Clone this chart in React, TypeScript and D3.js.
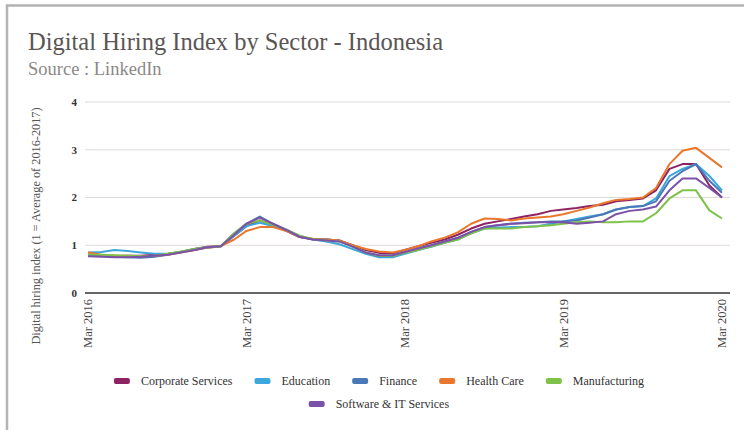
import { useMemo } from "react";
import * as d3 from "d3";

const W = 744;
const H = 430;
const FONT = "'Liberation Serif', 'Times New Roman', serif";

// monthly, Mar 2016 .. Mar 2020
const startMonth = new Date(2016, 2, 1);
const yearTicks = [2016, 2017, 2018, 2019, 2020];
const yTicks = [0, 1, 2, 3, 4];

const corporate = [
  0.8, 0.78, 0.77, 0.78, 0.78, 0.8, 0.82, 0.86, 0.92, 0.97, 0.98, 1.2, 1.4,
  1.52, 1.42, 1.3, 1.17, 1.13, 1.12, 1.1, 1.0, 0.9, 0.84, 0.83, 0.9, 0.98,
  1.05, 1.12, 1.22, 1.35, 1.45, 1.5, 1.55, 1.6, 1.65, 1.72, 1.75, 1.78, 1.82,
  1.85, 1.92, 1.95, 1.98, 2.15, 2.6, 2.7, 2.7, 2.25, 2.0,
];
const education = [
  0.85, 0.86, 0.9, 0.88, 0.85, 0.82, 0.82, 0.86, 0.92, 0.96, 0.98, 1.2, 1.4,
  1.47, 1.4, 1.32, 1.2, 1.12, 1.08, 1.02, 0.92, 0.82, 0.75, 0.75, 0.82, 0.9,
  0.97, 1.05, 1.12, 1.25, 1.35, 1.37, 1.38, 1.38, 1.4, 1.45, 1.5, 1.55, 1.6,
  1.65, 1.75, 1.8, 1.82, 1.98, 2.45, 2.6, 2.7, 2.45, 2.15,
];
const finance = [
  0.78, 0.78, 0.76, 0.75, 0.74, 0.76, 0.8, 0.86, 0.9, 0.95, 0.98, 1.25, 1.45,
  1.6, 1.45, 1.32, 1.18, 1.12, 1.12, 1.1, 0.97, 0.84, 0.77, 0.78, 0.85, 0.93,
  1.0, 1.08, 1.16, 1.28, 1.38, 1.42, 1.45, 1.47, 1.48, 1.5, 1.5, 1.52, 1.58,
  1.65, 1.75, 1.8, 1.82, 1.92, 2.35, 2.55, 2.7, 2.35, 2.1,
];
const healthCare = [
  0.85, 0.8, 0.78, 0.78, 0.77, 0.78, 0.8, 0.85, 0.9, 0.95, 0.98, 1.12, 1.3,
  1.38, 1.38, 1.3, 1.18, 1.13, 1.12, 1.1, 1.0, 0.92, 0.87, 0.85, 0.9, 0.98,
  1.08, 1.16, 1.27, 1.45, 1.56, 1.55, 1.52, 1.56, 1.58, 1.6, 1.65, 1.72, 1.79,
  1.88, 1.95, 1.97, 2.0, 2.2, 2.7, 2.98, 3.04, 2.83, 2.63,
];
const manufacturing = [
  0.8, 0.8, 0.79, 0.78, 0.77, 0.78, 0.82, 0.87, 0.92, 0.96, 0.98, 1.25, 1.45,
  1.52, 1.43, 1.33, 1.2, 1.13, 1.1, 1.08, 0.97, 0.85, 0.78, 0.78, 0.84, 0.9,
  0.98, 1.05, 1.12, 1.25, 1.35, 1.35, 1.35, 1.38, 1.4, 1.42, 1.45, 1.48, 1.5,
  1.48, 1.48, 1.5, 1.5, 1.67, 1.98, 2.15, 2.15, 1.73, 1.56,
];
const software = [
  0.77, 0.76, 0.75, 0.75, 0.76, 0.78, 0.8, 0.85, 0.9, 0.96, 0.98, 1.22, 1.45,
  1.58, 1.45, 1.32, 1.18, 1.12, 1.1, 1.08, 0.97, 0.85, 0.79, 0.79, 0.86, 0.93,
  1.0, 1.08, 1.15, 1.28, 1.38, 1.42, 1.45, 1.46, 1.48, 1.48, 1.48, 1.45, 1.47,
  1.5, 1.65, 1.72, 1.75, 1.81, 2.15, 2.4, 2.4, 2.2, 2.0,
];

const seriesNames = [
  "Corporate Services",
  "Education",
  "Finance",
  "Health Care",
  "Manufacturing",
  "Software & IT Services",
];
const seriesValues = [corporate, education, finance, healthCare, manufacturing, software];
const seriesColors = ["#8e2363", "#3ea7dc", "#4a78b6", "#e9782d", "#7fc24a", "#7b52a8"];

function measure(text: string, size: number) {
  const ctx = document.createElement("canvas").getContext("2d");
  if (!ctx) return text.length * size * 0.45;
  ctx.font = `${size}px ${FONT}`;
  return ctx.measureText(text).width;
}

export default function App() {
  const x = d3
    .scaleTime()
    .domain([startMonth, new Date(2020, 2, 1)])
    .range([88, 722]);
  const y = d3.scaleLinear().domain([0, 4]).range([293, 102]);

  const line = d3
    .line<number>()
    .x((_, i) => x(d3.timeMonth.offset(startMonth, i)))
    .y((d) => y(d));

  const fmt = d3.timeFormat("%b %Y");

  // legend: first five on one row, the last on a second row, both centred
  const legendRows = useMemo(() => {
    const rows = [seriesNames.slice(0, 5), seriesNames.slice(5)];
    return rows.map((names, r) => {
      const widths = names.map((n) => 27 + measure(n, 12));
      const total = d3.sum(widths) + 22 * (names.length - 1);
      let cx = 379 - total / 2;
      return names.map((n, k) => {
        const item = { name: n, x: cx, row: r, color: seriesColors[seriesNames.indexOf(n)] };
        cx += widths[k] + 22;
        return item;
      });
    });
  }, []);

  return (
    <svg
      width={W}
      height={H}
      style={{ position: "absolute", left: 0, top: 0, background: "#fff" }}
      fontFamily={FONT}
    >
      <path d={`M7,${H + 5}V5.5H${W + 5}`} fill="none" stroke="#b3b3b3" strokeWidth={2.5} />

      <text x={28} y={50} fontSize={24.5} fill="#5b5555">
        Digital Hiring Index by Sector - Indonesia
      </text>
      <text x={28} y={75} fontSize={18.5} fill="#8c8888">
        Source : LinkedIn
      </text>

      {yTicks.map((t) => (
        <g key={t}>
          {t > 0 && (
            <line x1={85} x2={730} y1={y(t)} y2={y(t)} stroke="#dedad8" strokeWidth={1.2} />
          )}
          <text
            x={77}
            y={y(t)}
            dy="0.35em"
            textAnchor="end"
            fontSize={11}
            fontWeight="bold"
            fill="#333"
          >
            {t}
          </text>
        </g>
      ))}

      <text
        transform={`translate(40,${226}) rotate(-90)`}
        textAnchor="middle"
        fontSize={12.3}
        fill="#555"
      >
        Digital hiring index (1 = Average of 2016-2017)
      </text>

      {seriesValues.map((vals, k) => (
        <path
          key={seriesNames[k]}
          d={line(vals) ?? ""}
          fill="none"
          stroke={seriesColors[k]}
          strokeWidth={2}
          strokeLinejoin="round"
        />
      ))}

      <line x1={85} x2={730} y1={y(0)} y2={y(0)} stroke="#333" strokeWidth={1.6} />

      {yearTicks.map((yr) => {
        const d = new Date(yr, 2, 1);
        return (
          <text
            key={yr}
            transform={`translate(${x(d)},299) rotate(-90)`}
            textAnchor="end"
            dy="0.35em"
            fontSize={12.5}
            fill="#444"
          >
            {fmt(d)}
          </text>
        );
      })}

      {legendRows.flat().map((it) => {
        const cy = it.row === 0 ? 381 : 404;
        return (
          <g key={it.name}>
            <rect x={it.x} y={cy - 3} width={16} height={6} rx={2} fill={it.color} />
            <text x={it.x + 27} y={cy} dy="0.35em" fontSize={12} fill="#333">
              {it.name}
            </text>
          </g>
        );
      })}
    </svg>
  );
}
